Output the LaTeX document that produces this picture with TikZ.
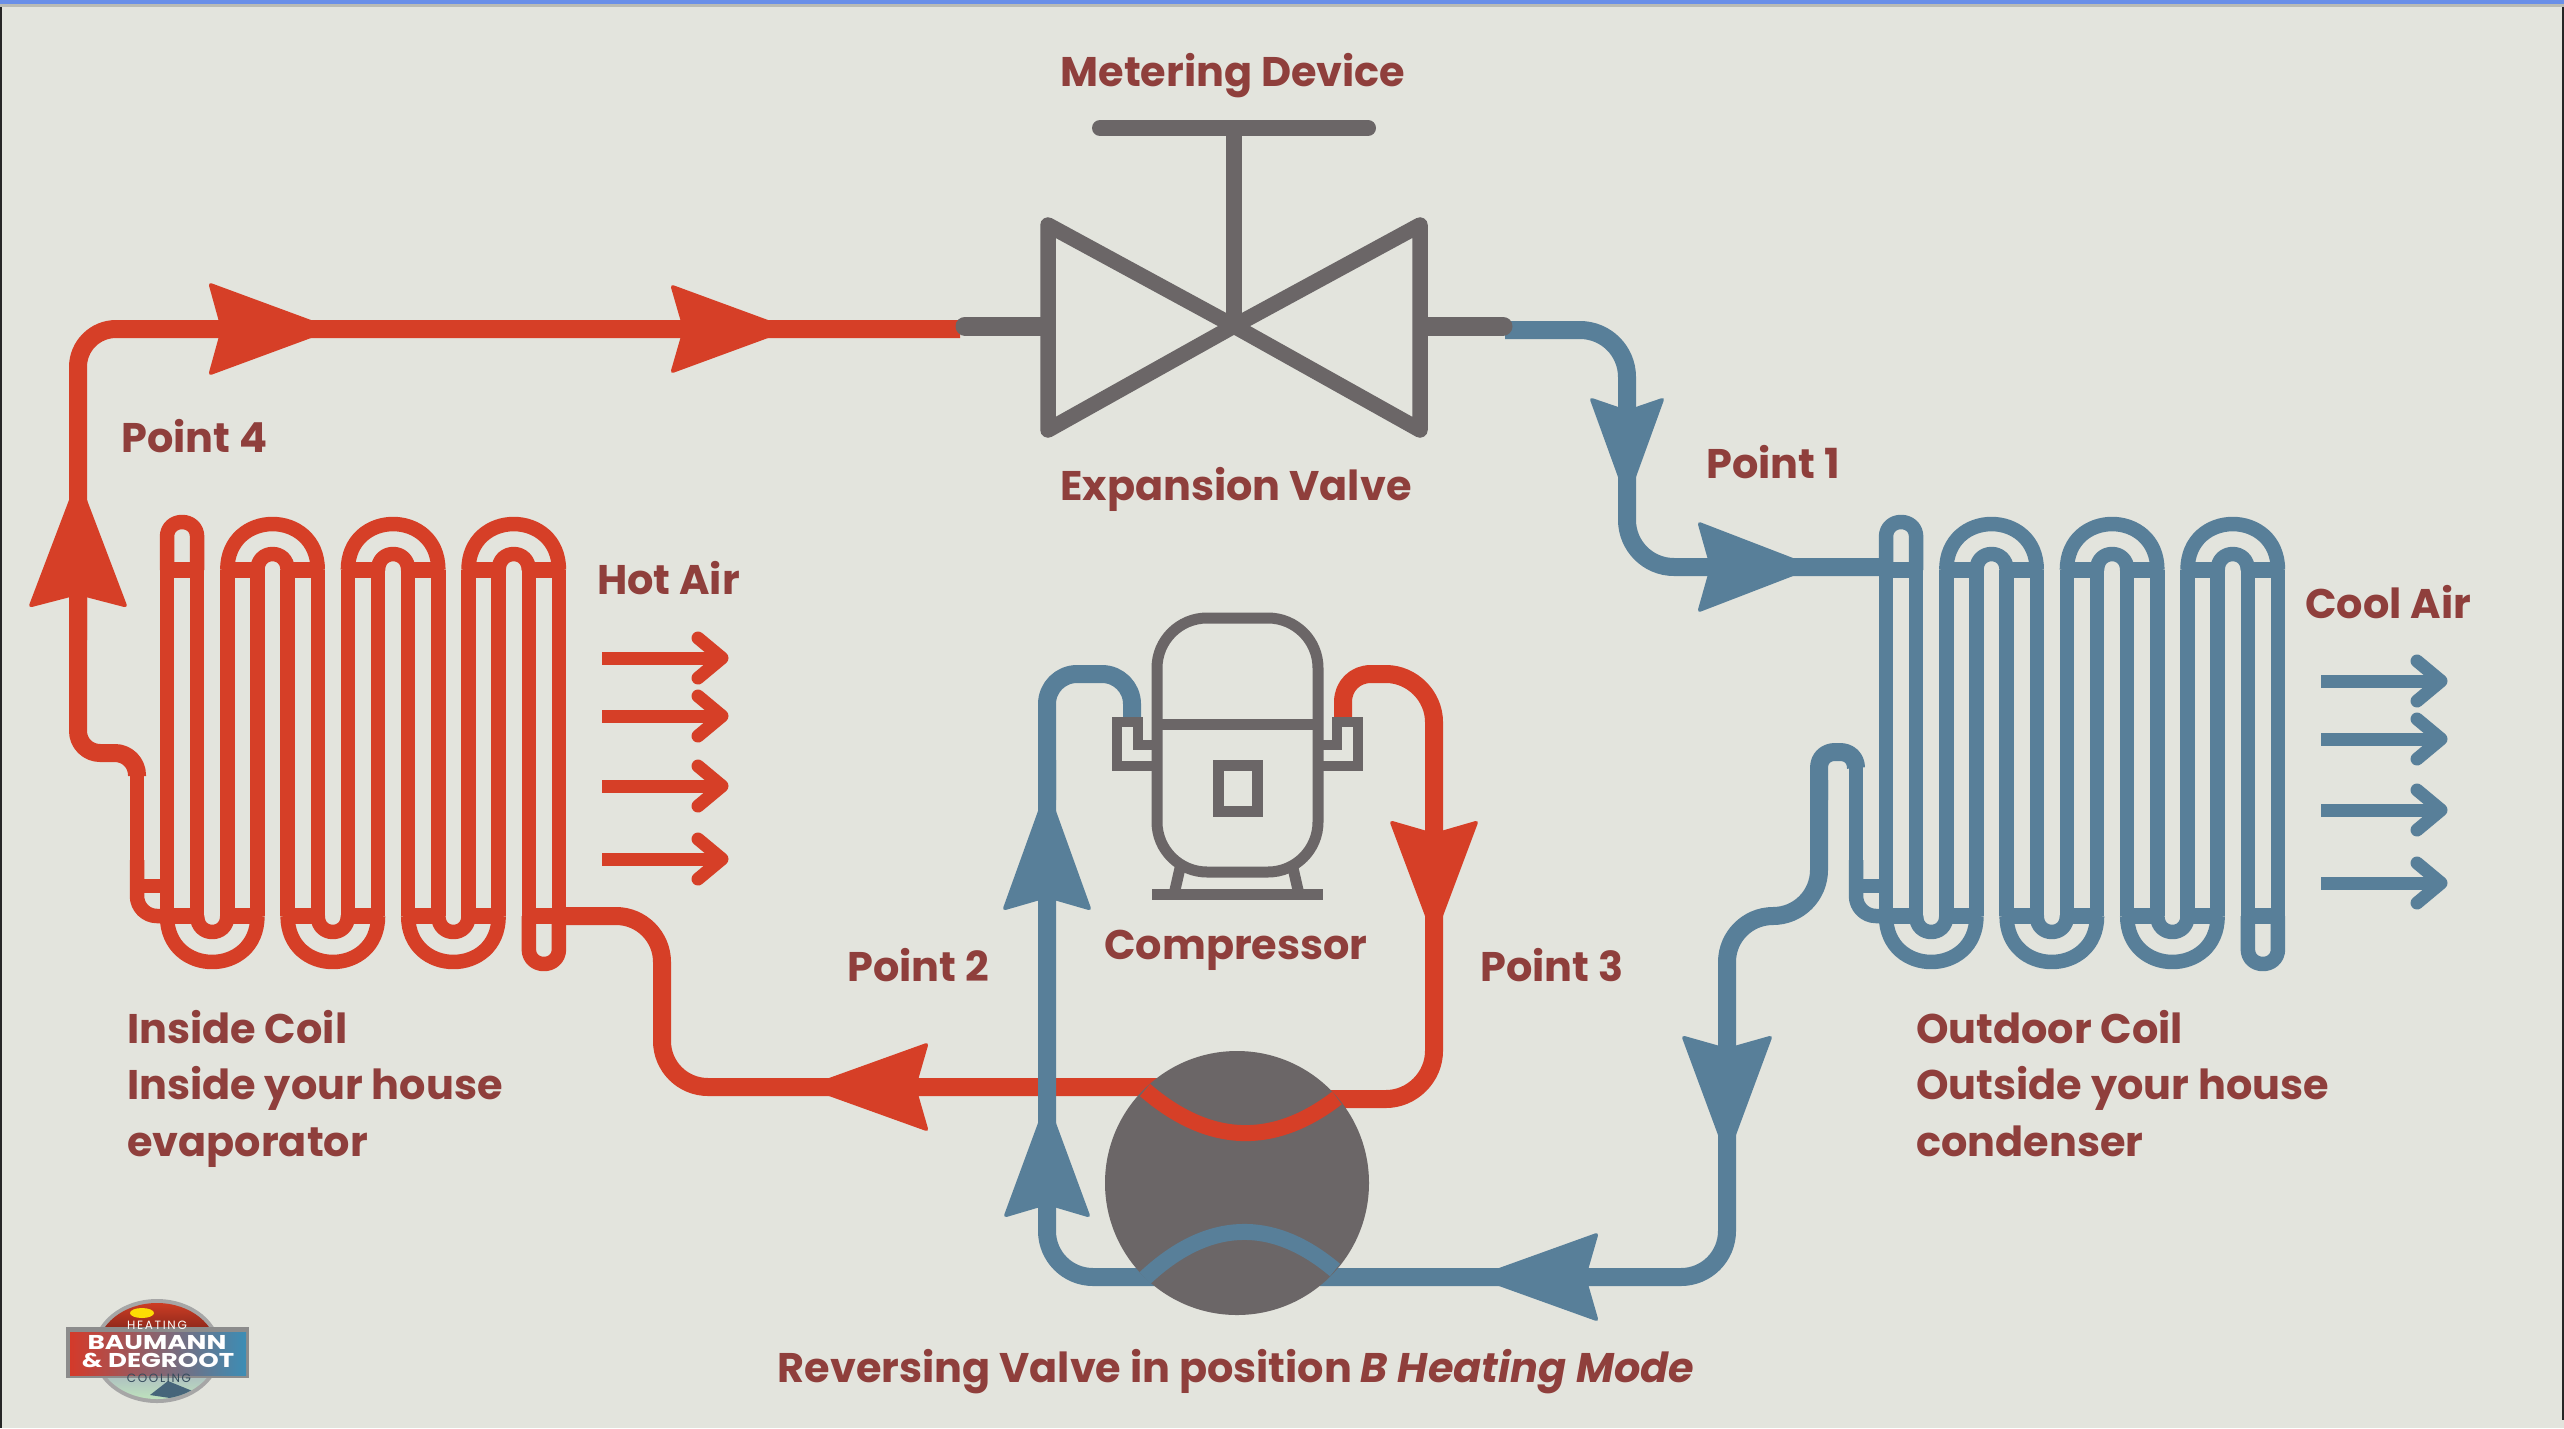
\documentclass[tikz,border=0pt]{standalone}
\usepackage{fontspec}
\setmainfont{Poppins}[BoldItalicFont={Poppins Bold Italic}]
\usetikzlibrary{fadings}
\definecolor{bg}{HTML}{E3E4DD}
\definecolor{hotc}{HTML}{D63F27}
\definecolor{coldc}{HTML}{587F99}
\definecolor{greyc}{HTML}{6B6667}
\definecolor{txtc}{HTML}{8F3F3C}
\definecolor{topbar}{HTML}{6A8FE8}
\definecolor{logored}{HTML}{D43A2A}
\definecolor{logoblue}{HTML}{3C8DB5}
\tikzset{
  mainpipe/.style={line width=18pt,line cap=butt,line join=round},
  coiltube/.style={line width=14.5pt,line cap=butt,line join=round},
  valveline/.style={greyc,line width=15.5pt,line join=round,line cap=round},
  compline/.style={greyc,line width=11pt,line join=miter,line cap=butt},
  lbl/.style={inner sep=0pt,text=txtc,font=\bfseries\fontsize{41.4}{56.5}\selectfont,align=left}
}
\tikzfading[name=hfade,left color=transparent!100,middle color=transparent!0,right color=transparent!100]
% x y angle colour half-height length-to-pipe-width
\newcommand{\ahead}[6]{%
  \pgfmathsetmacro\tipL{#6*#5/(#5-9)}%
  \begin{scope}[shift={(#1,#2)},rotate=#3]
    \fill[#4,rounded corners=4pt] (\tipL,0) -- (0,#5) -- (13,0) -- (0,-#5) -- cycle;
  \end{scope}}
\newcommand{\airarrow}[3]{%
  \draw[#3,line width=13pt] (#1,#2) -- (#1+120,#2);
  \draw[#3,line width=13pt,line cap=round,line join=round] (#1+96,#2-20) -- (#1+120,#2) -- (#1+96,#2+20);}
\newcommand{\coilbody}[2]{%
  \begin{scope}[xshift=#1pt,color=#2,coiltube]
    \foreach \i in {0,...,13} {\draw ({167+30.15*\i},570) -- ({167+30.15*\i},916);}
    \foreach \i in {0,2,...,12} {
      \draw[line width=16pt] ({167+30.15*\i},570) -- ({167+30.15*(\i+1)},570);
      \draw[line width=16pt] ({167+30.15*\i},916) -- ({167+30.15*(\i+1)},916);}
    \foreach \a/\b/\d in {2/5/61.3,3/4/21.3,6/9/61.3,7/8/21.3,10/13/61.3,11/12/21.3}
      {\draw ({167+30.15*\a},570) .. controls ({167+30.15*\a},{570-\d}) and ({167+30.15*\b},{570-\d}) .. ({167+30.15*\b},570);}
    \foreach \a/\b/\d in {0/3/61.3,1/2/21.3,4/7/61.3,5/6/21.3,8/11/61.3,9/10/21.3}
      {\draw ({167+30.15*\a},916) .. controls ({167+30.15*\a},{916+\d}) and ({167+30.15*\b},{916+\d}) .. ({167+30.15*\b},916);}
    \draw (167,570) -- (167,537) .. controls (167,517) and (197.15,517) .. (197.15,537) -- (197.15,570);
    \draw (528.8,916) -- (528.8,949) .. controls (528.8,969) and (558.95,969) .. (558.95,949) -- (558.95,916);
    \draw[rounded corners=20pt] (137,860) -- (137,916) -- (170,916);
    \draw (137,886) -- (167,886);
  \end{scope}}
\begin{document}
\begin{tikzpicture}[x=1pt,y=-1pt]
\useasboundingbox (0,0) rectangle (2564,1428);
\fill[bg] (0,0) rectangle (2564,1428);
% screenshot edges and bottom shade
\shade[top color=bg,bottom color=black!14!bg,path fading=hfade] (150,1370) rectangle (2500,1428);
\fill[black!85] (0,6) rectangle (2,1428);
\fill[black!85] (2562,6) rectangle (2564,1420);
\fill[black!18!bg] (0,4) rectangle (2564,6.5);
\fill[topbar] (0,0) rectangle (2564,4);

% coils
\coilbody{0}{hotc}
\coilbody{1719}{coldc}

% red circuit
\draw[coiltube,hotc] (137,775) -- (137,880);
\draw[mainpipe,hotc,rounded corners=22pt] (137,776) -- (137,753) -- (78,753) -- (78,500);
\draw[mainpipe,hotc,rounded corners=38pt] (78,640) -- (78,329) -- (960,329);
\draw[mainpipe,hotc,rounded corners=46pt] (556,916) -- (662,916) -- (662,1087) -- (1160,1087);
\draw[mainpipe,hotc] (1343,722) -- (1343,702) .. controls (1343,686) and (1355,674) .. (1371,674) -- (1386,674) .. controls (1412,674) and (1434,696) .. (1434,722) -- (1434,1051) .. controls (1434,1077) and (1412,1099) .. (1386,1099) -- (1330,1099);
% blue circuit
\draw[mainpipe,coldc,rounded corners=47pt] (1505,330) -- (1627,330) -- (1627,567) -- (1890,567);
\draw[coiltube,coldc] (1856,767) -- (1856,880);
\draw[mainpipe,coldc] (1856,768) .. controls (1856,758) and (1849,752) .. (1840,752) -- (1835,752) .. controls (1826,752) and (1819,758) .. (1819,768) -- (1819,800);
\draw[mainpipe,coldc,rounded corners=46pt] (1819,780) -- (1819,916) -- (1727,916) -- (1727,1277) -- (1320,1277);
\draw[mainpipe,coldc,rounded corners=46pt] (1160,1277) -- (1047,1277) -- (1047,760);
\draw[mainpipe,coldc,rounded corners=30pt] (1047,800) -- (1047,674) -- (1132,674) -- (1132,722);

% arrowheads
\ahead{208}{329}{0}{hotc}{47}{103}
\ahead{670}{329}{0}{hotc}{45}{98}
\ahead{78}{608}{90}{hotc}{50}{108}
\ahead{1627}{397}{270}{coldc}{38}{80}
\ahead{1697}{567}{0}{coldc}{46}{96}
\ahead{1434}{820}{270}{hotc}{45}{96}
\ahead{1047}{911}{90}{coldc}{45}{100}
\ahead{1047}{1218}{90}{coldc}{44}{95}
\ahead{929}{1087}{180}{hotc}{45}{100}
\ahead{1727}{1035}{270}{coldc}{46}{100}
\ahead{1599}{1277}{180}{coldc}{45}{100}

% air arrows
\foreach \y in {658,716,786,859} {\airarrow{602}{\y}{hotc}}
\foreach \y in {681,739,810,883} {\airarrow{2321}{\y}{coldc}}

% expansion valve
\draw[valveline] (1048,225) -- (1048,430) -- (1234,326) -- (1420,430) -- (1420,225) -- (1234,326) -- cycle;
\draw[valveline,line width=16pt] (1100,128) -- (1368,128);
\draw[valveline,line cap=butt] (1234,128) -- (1234,326);
\draw[valveline,line width=19pt] (965,326) -- (1040,326);
\draw[valveline,line width=19pt] (1428,326) -- (1503,326);

% compressor
\draw[compline,fill=bg,rounded corners=50pt] (1157,724) -- (1157,618) -- (1318,618) -- (1318,872) -- (1157,872) -- cycle;
\draw[compline] (1157,724) -- (1318,724);
\draw[compline] (1218,765) rectangle (1257,811);
\draw[compline] (1152,894) -- (1323,894);
\draw[compline] (1180,868) -- (1175,890);
\draw[compline] (1293,868) -- (1298,890);
\draw[compline,line width=10pt] (1152,766) -- (1117,766) -- (1117,722) -- (1138,722) -- (1138,745) -- (1152,745);
\draw[compline,line width=10pt] (1323,766) -- (1358,766) -- (1358,722) -- (1337,722) -- (1337,745) -- (1323,745);

% reversing valve
\node[circle,fill=greyc,minimum size=264pt,inner sep=0pt] (rv) at (1237,1183) {};
\draw[hotc,line width=16pt] (1145,1090) .. controls (1209,1145) and (1273,1147) .. (1337,1098);
\draw[coldc,line width=16pt] (1145,1278) .. controls (1208,1219) and (1272,1217) .. (1335,1270);

% labels
\node[lbl,anchor=center] (mdev) at (1233,76) {Metering Device};
\node[lbl,anchor=center] (xval) at (1236,489) {Expansion Valve};
\node[lbl,anchor=west] (p4) at (121,436) {Point 4};
\node[lbl,anchor=west] (p1) at (1706,462) {Point 1};
\node[lbl,anchor=west] (hot) at (597,578) {Hot Air};
\node[lbl,anchor=west] (cool) at (2305,602) {Cool Air};
\node[lbl,anchor=center] (comp) at (1236,950) {Compressor};
\node[lbl,anchor=west] (p2) at (847,965) {Point 2};
\node[lbl,anchor=west] (p3) at (1480,965) {Point 3};
\node[lbl,anchor=north west] (icoil) at (127,1010) {Inside Coil\\Inside your house\\evaporator};
\node[lbl,anchor=north west] (ocoil) at (1916,1010) {Outdoor Coil\\Outside your house\\condenser};
\node[lbl,anchor=center] (rvl) at (1236,1372) {Reversing Valve in position \textit{B Heating Mode}};

% logo
\begin{scope}
  \fill[black!35] (157,1351) ellipse [x radius=64,y radius=52];
  \begin{scope}
    \clip (157,1351) ellipse [x radius=60,y radius=48];
    \shade[top color=logored!90!orange,bottom color=logored!60!black] (90,1298) rectangle (225,1335);
    \fill[yellow!80!orange] (142,1313) ellipse [x radius=12,y radius=5];
    \shade[top color=coldc!40!bg,bottom color=green!15!bg] (90,1372) rectangle (225,1403);
    \fill[coldc!80!black] (150,1395) -- (168,1381) -- (195,1392) -- (170,1398) -- cycle;
  \end{scope}
  \fill[black!45] (66,1327) rectangle (249,1378);
  \shade[left color=logored,right color=logoblue] (70,1332) rectangle (246,1375);
  \node[inner sep=0pt,text=white,font=\bfseries\fontsize{20}{20}\selectfont] (lg1) at (157,1343) {\scalebox{1.32}[1]{BAUMANN}};
  \node[inner sep=0pt,text=white,font=\bfseries\fontsize{20}{20}\selectfont] (lg2) at (158,1360) {\scalebox{1.3}[1]{\&\ DEGROOT}};
  \node[inner sep=0pt,text=white!85!bg,font=\fontsize{12}{12}\selectfont\addfontfeatures{LetterSpace=14}] (lg3) at (157,1325) {HEATING};
  \node[inner sep=0pt,text=coldc!60!black,font=\fontsize{12}{12}\selectfont\addfontfeatures{LetterSpace=14}] (lg4) at (159,1378) {COOLING};
\end{scope}
\end{tikzpicture}
\end{document}
